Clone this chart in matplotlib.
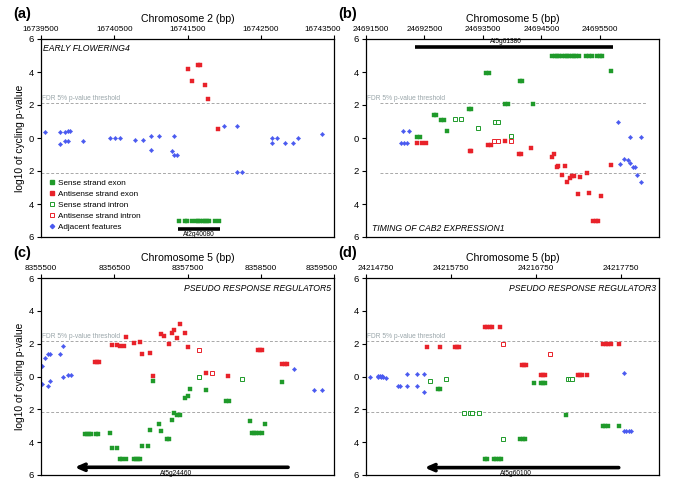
import numpy as np
import matplotlib.pyplot as plt
from matplotlib.lines import Line2D
from matplotlib.transforms import ScaledTranslation

plt.rcParams['font.family'] = ['Liberation Sans', 'DejaVu Sans']

# colours for the five feature classes
GREEN = '#1f9a2a'
RED = '#e8222a'
BLUE = '#4a5af0'
GRAY = '#a8a8a8'

# ---------------- panel (a) : Chromosome 2 ----------------
a_xlim = (16739500, 16743500)
a_ticks = [16739500, 16740500, 16741500, 16742500, 16743500]
a_blue_x = [16739555, 16739759, 16739759, 16739830, 16739862, 16739894, 16739830, 16739862,
            16740068, 16740445, 16740514, 16740582, 16740782, 16740891, 16740995, 16740995,
            16741105, 16741282, 16741314, 16741314, 16741350, 16742000, 16742177, 16742177,
            16742250, 16742659, 16742659, 16742727, 16742836, 16742936, 16743005, 16743341]
a_blue_y = [0.34, 0.34, -0.34, 0.34, 0.40, 0.42, -0.2, -0.2,
            -0.2, 0.0, 0.0, 0.0, -0.1, -0.1, 0.15, -0.7,
            0.15, -0.8, 0.15, -1.0, -1.0, 0.7, 0.7, -2.05,
            -2.05, 0.0, -0.3, 0.0, -0.3, -0.3, 0.0, 0.22]
a_red_x = [16741509, 16741568, 16741640, 16741665, 16741741, 16741782, 16741923]
a_red_y = [4.21, 3.47, 4.44, 4.44, 3.19, 2.38, 0.52]
a_green_x = [16741386, 16741464, 16741495, 16741568, 16741614, 16741645, 16741677, 16741705,
             16741736, 16741768, 16741800, 16741873, 16741936]
a_green_y = [-5.0] * 13

# ---------------- panel (b) : Chromosome 5 ----------------
b_xlim = (24691500, 24696510)
b_ticks = [24691500, 24692500, 24693500, 24694500, 24695500]
b_blue_x = [24692126, 24692234, 24692097, 24692154, 24692194, 24695806, 24695846, 24695920,
            24695982, 24696022, 24696022, 24696062, 24696102, 24696136, 24696210, 24696210]
b_blue_y = [0.43, 0.43, -0.28, -0.28, -0.28, 0.97, -1.56, -1.26,
            -1.32, -1.5, 0.08, -1.78, -1.78, -2.25, 0.08, -2.64]
b_green_x = [24692380, 24692420, 24692660, 24692700, 24692774, 24692842, 24692877, 24693263,
             24693300, 24693550, 24693600, 24693880, 24693920, 24694130, 24694170, 24694355,
             24695692,
             24694687, 24694727, 24694767, 24694801, 24694858, 24694898, 24694938, 24694977,
             24695017, 24695057, 24695096, 24695136, 24695267, 24695307, 24695364, 24695455,
             24695494, 24695528]
b_green_y = [0.08, 0.08, 1.4, 1.4, 1.12, 1.12, 0.43, 1.76,
             1.76, 3.91, 3.91, 2.05, 2.05, 3.43, 3.43, 2.07,
             4.06] + [5.0] * 18
b_greeno_x = [24693019, 24693127, 24693411, 24693701, 24693758, 24693986]
b_greeno_y = [1.18, 1.18, 0.63, 0.99, 0.99, 0.12]
b_red_x = [24692380, 24692450, 24692524, 24693270, 24693300, 24693590, 24693630, 24693883,
           24694115, 24694150, 24694316, 24694680, 24694714, 24694760, 24694790, 24694900,
           24694856, 24694943, 24694982, 24695016, 24695050, 24695118, 24695152, 24695271,
           24695305, 24695390, 24695425, 24695470, 24695510, 24695692]
b_red_y = [-0.32, -0.32, -0.32, -0.79, -0.79, -0.45, -0.45, -0.2,
           -0.95, -0.95, -0.61, -1.16, -0.95, -1.78, -1.7, -1.72,
           -2.23, -2.64, -2.43, -2.33, -2.33, -3.39, -2.39, -2.15,
           -3.35, -5.03, -5.03, -5.03, -3.51, -1.66]
b_redo_x = [24693690, 24693758, 24693986]
b_redo_y = [-0.2, -0.2, -0.2]

# ---------------- panel (c) : Chromosome 5 ----------------
c_xlim = (8355500, 8359500)
c_ticks = [8355500, 8356500, 8357500, 8358500, 8359500]
c_blue_x = [8355518, 8355518, 8355555, 8355591, 8355627, 8355591, 8355627, 8355764,
            8355800, 8355800, 8355873, 8355909, 8358959, 8359227, 8359341]
c_blue_y = [0.61, -0.47, 1.12, 1.4, 1.4, -0.59, -0.3, 1.36,
            1.87, -0.04, 0.1, 0.1, 0.47, -0.85, -0.85]
c_red_x = [8356236, 8356264, 8356291, 8356473, 8356541, 8356582, 8356636, 8356664,
           8356773, 8356845, 8356882, 8356991, 8357032, 8357141, 8357173, 8357250,
           8357282, 8357318, 8357355, 8357395, 8357464, 8357505, 8357759, 8358050,
           8358464, 8358491, 8358518, 8358795, 8358827, 8358859]
c_red_y = [0.91, 0.91, 0.91, 1.89, 1.89, 1.83, 1.83, 2.42,
           2.03, 2.13, 1.38, 1.42, 0.04, 2.56, 2.46, 1.99,
           2.68, 2.83, 2.34, 3.19, 2.68, 1.79, 0.2, 0.02,
           1.61, 1.61, 1.61, 0.79, 0.79, 0.79]
c_redo_x = [8357655, 8357832]
c_redo_y = [1.59, 0.2]
c_green_x = [8356100, 8356127, 8356155, 8356182, 8356245, 8356273, 8356441, 8356473,
             8356541, 8356582, 8356609, 8356664, 8356773, 8356800, 8356827, 8356855,
             8356882, 8356955, 8356991, 8357032, 8357105, 8357141, 8357214, 8357241,
             8357282, 8357318, 8357355, 8357395, 8357464, 8357505, 8357536, 8357759,
             8358032, 8358064, 8358350, 8358386, 8358414, 8358441, 8358477, 8358514,
             8358564, 8358786]
c_green_y = [-3.52, -3.52, -3.52, -3.52, -3.52, -3.52, -3.46, -4.33,
             -4.33, -5.04, -5.04, -5.04, -5.04, -5.04, -5.04, -5.04,
             -4.23, -4.23, -3.25, -0.26, -2.89, -3.29, -3.8, -3.8,
             -2.68, -2.2, -2.36, -2.36, -1.32, -1.16, -0.75, -0.83,
             -1.5, -1.5, -2.74, -3.46, -3.46, -3.46, -3.46, -3.46,
             -2.87, -0.33]
c_greeno_x = [8357655, 8358241]
c_greeno_y = [-0.06, -0.18]

# ---------------- panel (d) : Chromosome 5 ----------------
d_xlim = (24214750, 24218200)
d_ticks = [24214750, 24215750, 24216750, 24217750]
d_blue_x = [24214799, 24214897, 24214920, 24214944, 24214897, 24214925, 24214950, 24214983,
            24215124, 24215155, 24215237, 24215355, 24215237, 24215355, 24215433, 24215433,
            24217789, 24217785, 24217817, 24217848, 24217875]
d_blue_y = [-0.04, 0.06, 0.06, 0.06, -0.06, -0.06, -0.06, -0.1,
            -0.55, -0.55, -0.55, -0.55, 0.18, 0.18, 0.18, -0.96,
            0.2, -3.29, -3.29, -3.29, -3.29]
d_red_x = [24215472, 24215617, 24215801, 24215824, 24215848, 24216149, 24216180, 24216208,
           24216236, 24216333, 24216584, 24216607, 24216630, 24216807, 24216830, 24216854,
           24217245, 24217268, 24217292, 24217358, 24217543, 24217574, 24217605, 24217636,
           24217726]
d_red_y = [1.79, 1.77, 1.79, 1.79, 1.79, 3.01, 3.01, 3.01,
           3.01, 3.01, 0.71, 0.71, 0.71, 0.08, 0.08, 0.08,
           0.08, 0.08, 0.08, 0.08, 1.99, 1.99, 1.99, 1.99,
           1.99]
d_redo_x = [24216368, 24216916]
d_redo_y = [1.95, 1.4]
d_green_x = [24215593, 24215617, 24216732, 24216807, 24216830, 24216854, 24217104, 24216568,
             24216596, 24216623, 24216153, 24216180, 24216259, 24216286, 24216314, 24216341,
             24217535, 24217566, 24217597, 24217726]
d_green_y = [-0.77, -0.77, -0.39, -0.39, -0.39, -0.39, -2.32, -3.82,
             -3.82, -3.82, -5.04, -5.04, -5.04, -5.04, -5.04, -5.04,
             -2.99, -2.99, -2.99, -2.99]
d_greeno_x = [24215503, 24215695, 24215907, 24215969, 24216000, 24216079, 24216368, 24217132,
              24217155, 24217178]
d_greeno_y = [-0.3, -0.16, -2.2, -2.2, -2.2, -2.2, -3.82, -0.16,
              -0.16, -0.16]

fdr = 2.15
yticks = [-6, -4, -2, 0, 2, 4, 6]
ylabels = ['6', '4', '2', '0', '2', '4', '6']

fig = plt.figure(figsize=(6.85, 4.93), dpi=100)
W, H = 685.0, 493.0
def make_ax(l, t, r, b):
    return fig.add_axes([l / W, 1 - b / H, (r - l) / W, (b - t) / H])

ax_a = make_ax(41, 39, 334, 237)
ax_b = make_ax(366, 39, 659, 237)
ax_c = make_ax(41, 278, 334, 475)
ax_d = make_ax(366, 278, 659, 475)

def pts(ax, x, y, kind):
    if kind == 'green':
        ax.plot(x, y, ls='none', marker='s', ms=2.2, mfc=GREEN, mec=GREEN, mew=0.3)
    elif kind == 'red':
        ax.plot(x, y, ls='none', marker='s', ms=2.2, mfc=RED, mec=RED, mew=0.3)
    elif kind == 'greeno':
        ax.plot(x, y, ls='none', marker='s', ms=2.4, mfc='white', mec=GREEN, mew=0.7)
    elif kind == 'redo':
        ax.plot(x, y, ls='none', marker='s', ms=2.4, mfc='white', mec=RED, mew=0.7)
    else:
        ax.plot(x, y, ls='none', marker='D', ms=2.2, mfc=BLUE, mec=BLUE, mew=0.3)

def shift(label, dx):
    label.set_transform(label.get_transform() +
                        ScaledTranslation(dx / 100, 0, fig.dpi_scale_trans))

def setup(ax, xlim, ticks, title, letter, ylab, first_dx=0, last_dx=0,
          line_start=None, line_end=None):
    ax.set_xlim(*xlim)
    ax.set_ylim(-6, 6)
    ax.set_yticks(yticks)
    ax.set_yticklabels(ylabels, fontsize=6.8)
    ax.xaxis.tick_top()
    ax.xaxis.set_label_position('top')
    ax.set_xticks(ticks)
    ax.set_xticklabels([str(t) for t in ticks], fontsize=5.9)
    ax.tick_params(axis='both', direction='out', length=3, width=0.8, pad=1.5)
    ax.tick_params(axis='y', pad=2)
    ax.set_xlabel(title, fontsize=7.6, labelpad=3)
    for s in ax.spines.values():
        s.set_linewidth(0.9)
    if ylab:
        ax.set_ylabel('log10 of cycling p-value', fontsize=7.4, labelpad=3)
    x0 = xlim[0] if line_start is None else line_start
    x1 = xlim[1] if line_end is None else line_end
    ax.plot([x0, x1], [fdr, fdr], ls=(0, (3, 2)), color=GRAY, lw=0.7)
    ax.plot([x0, x1], [-fdr, -fdr], ls=(0, (3, 2)), color=GRAY, lw=0.7)
    ax.text(xlim[0] + (xlim[1] - xlim[0]) * 0.004, fdr + 0.05, 'FDR 5% p-value threshold',
            fontsize=4.8, color='#9aa6aa', va='bottom', ha='left')
    ax.text(-0.095, 1.125, letter, transform=ax.transAxes, fontsize=10.5, fontweight='bold',
            ha='left', va='center')
    labels = ax.get_xticklabels()
    if first_dx:
        shift(labels[0], first_dx)
    if last_dx:
        shift(labels[-1], last_dx)

# panel a
setup(ax_a, a_xlim, a_ticks, 'Chromosome 2 (bp)', '(a)', True, last_dx=-11)
pts(ax_a, a_blue_x, a_blue_y, 'blue')
pts(ax_a, a_red_x, a_red_y, 'red')
pts(ax_a, a_green_x, a_green_y, 'green')
ax_a.plot([16741377, 16741941], [-5.5, -5.5], color='k', lw=2.6, solid_capstyle='butt')
ax_a.text(16741659, -5.62, 'At2g40080', fontsize=4.8, ha='center', va='top')
ax_a.text(0.008, 0.975, 'EARLY FLOWERING4', transform=ax_a.transAxes, fontsize=6.2,
          style='italic', ha='left', va='top')
handles = [
    Line2D([], [], ls='none', marker='s', ms=2.2, mfc=GREEN, mec=GREEN),
    Line2D([], [], ls='none', marker='s', ms=2.2, mfc=RED, mec=RED),
    Line2D([], [], ls='none', marker='s', ms=2.4, mfc='white', mec=GREEN, mew=0.7),
    Line2D([], [], ls='none', marker='s', ms=2.4, mfc='white', mec=RED, mew=0.7),
    Line2D([], [], ls='none', marker='D', ms=2.2, mfc=BLUE, mec=BLUE),
]
names = ['Sense strand exon', 'Antisense strand exon', 'Sense strand intron',
         'Antisense strand intron', 'Adjacent features']
ax_a.legend(handles, names, loc='upper left', bbox_to_anchor=(0.03, 0.29), frameon=False,
            fontsize=5.9, handlelength=0.6, handletextpad=0.35, labelspacing=0.38,
            borderpad=0, borderaxespad=0)

# panel b
setup(ax_b, b_xlim, b_ticks, 'Chromosome 5 (bp)', '(b)', False, first_dx=5,
      line_start=24691740, line_end=24696290)
pts(ax_b, b_blue_x, b_blue_y, 'blue')
pts(ax_b, b_green_x, b_green_y, 'green')
pts(ax_b, b_greeno_x, b_greeno_y, 'greeno')
pts(ax_b, b_red_x, b_red_y, 'red')
pts(ax_b, b_redo_x, b_redo_y, 'redo')
ax_b.plot([24692336, 24695721], [5.5, 5.5], color='k', lw=2.6, solid_capstyle='butt')
ax_b.text(24693900, 5.62, 'At5g61380', fontsize=4.8, ha='center', va='bottom')
ax_b.text(0.02, 0.02, 'TIMING OF CAB2 EXPRESSION1', transform=ax_b.transAxes, fontsize=6.2,
          style='italic', ha='left', va='bottom')

# panel c
setup(ax_c, c_xlim, c_ticks, 'Chromosome 5 (bp)', '(c)', True, last_dx=-12)
pts(ax_c, c_blue_x, c_blue_y, 'blue')
pts(ax_c, c_red_x, c_red_y, 'red')
pts(ax_c, c_redo_x, c_redo_y, 'redo')
pts(ax_c, c_green_x, c_green_y, 'green')
pts(ax_c, c_greeno_x, c_greeno_y, 'greeno')
ax_c.annotate('', xy=(8355960, -5.53), xytext=(8358873, -5.53),
              arrowprops=dict(arrowstyle='->,head_length=0.5,head_width=0.22', lw=2.6,
                              color='k', shrinkA=0, shrinkB=0))
ax_c.text(8357341, -5.68, 'At5g24460', fontsize=4.8, ha='center', va='top')
ax_c.text(0.99, 0.97, 'PSEUDO RESPONSE REGULATOR5', transform=ax_c.transAxes, fontsize=6.2,
          style='italic', ha='right', va='top')

# panel d
setup(ax_d, d_xlim, d_ticks, 'Chromosome 5 (bp)', '(d)', False, first_dx=10)
pts(ax_d, d_blue_x, d_blue_y, 'blue')
pts(ax_d, d_red_x, d_red_y, 'red')
pts(ax_d, d_redo_x, d_redo_y, 'redo')
pts(ax_d, d_green_x, d_green_y, 'green')
pts(ax_d, d_greeno_x, d_greeno_y, 'greeno')
ax_d.annotate('', xy=(24215440, -5.55), xytext=(24217726, -5.55),
              arrowprops=dict(arrowstyle='->,head_length=0.5,head_width=0.22', lw=2.6,
                              color='k', shrinkA=0, shrinkB=0))
ax_d.text(24216513, -5.7, 'At5g60100', fontsize=4.8, ha='center', va='top')
ax_d.text(0.99, 0.97, 'PSEUDO RESPONSE REGULATOR3', transform=ax_d.transAxes, fontsize=6.2,
          style='italic', ha='right', va='top')

fig.savefig('out.png', dpi=100)
